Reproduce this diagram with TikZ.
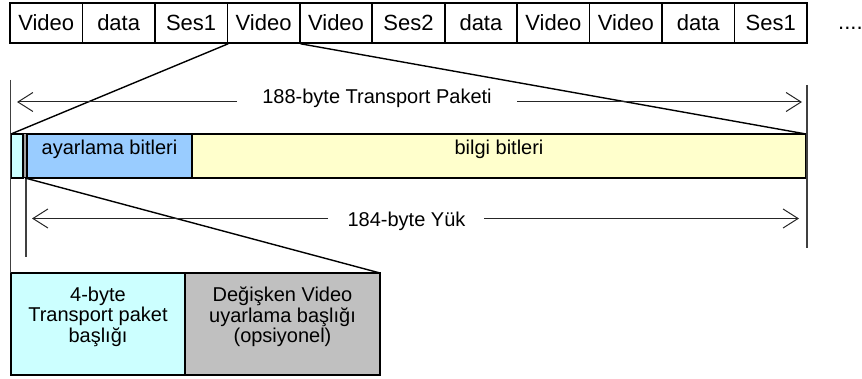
\documentclass[tikz,border=0pt]{standalone}
\usepackage{fontspec}
\setmainfont{Liberation Sans}
\usetikzlibrary{arrows.meta}
\definecolor{cyanf}{HTML}{CCFFFF}
\definecolor{bluef}{HTML}{99CCFF}
\definecolor{yellowf}{HTML}{FFFFCC}
\definecolor{greyf}{HTML}{C0C0C0}
\definecolor{stripf}{HTML}{A0A0A0}
\begin{document}
\begin{tikzpicture}[x=1pt,y=-1pt,
  topbox/.style={draw, line width=1.6pt, minimum width=72.45pt, minimum height=40pt, inner sep=0pt, font=\fontsize{22}{26}\selectfont},
  seg/.style={draw, line width=1.6pt, minimum height=44pt, inner sep=0pt, outer sep=0pt},
  botbox/.style={draw, line width=1.6pt, minimum height=102pt, inner sep=0pt, outer sep=0pt},
  lbl/.style={inner sep=0pt, font=\fontsize{20}{24}\selectfont},
  mlbl/.style={inner sep=0pt, align=center, font=\fontsize{20}{20.3}\selectfont},
  guide/.style={draw=black!75, line width=1.2pt},
  diag/.style={draw=black, line width=1.4pt},
  arr/.style={draw=black!85, line width=1pt, -{Straight Barb[length=15pt,width=19pt,line width=1pt]}}
]
\useasboundingbox (0,0) rectangle (862,379);

% top stream
\foreach \t [count=\i] in {Video,data,Ses1,Video,Video,Ses2,data,Video,Video,data,Ses1}
  \node[topbox] (t\i) at ({10+72.45*(\i-0.5)},23) {\t};
\node[lbl, font=\fontsize{22}{26}\selectfont, anchor=base west] (dots) at (838,30) {....};

% packet
\node[seg, fill=cyanf, minimum width=12pt] (p1) at (17,156) {};
\node[seg, fill=stripf, line width=1pt, minimum width=4pt] (p2) at (25,156) {};
\node[seg, fill=bluef, minimum width=165pt] (p3) at (109.5,156) {};
\node[seg, fill=yellowf, minimum width=614pt] (p4) at (499,156) {};
\node[lbl, anchor=base] (lp3) at (109.5,155) {ayarlama bitleri};
\node[lbl, anchor=base] (lp4) at (499,155) {bilgi bitleri};

% bottom header boxes
\node[botbox, fill=cyanf, minimum width=174pt] (b1) at (98,324) {};
\node[botbox, fill=greyf, minimum width=195pt] (b2) at (282.5,324) {};
\node[mlbl, anchor=north] (lb1) at (98,287) {4-byte\\Transport paket\\başlığı};
\node[mlbl, anchor=north] (lb2) at (282.5,287) {Değişken Video\\uyarlama başlığı\\(opsiyonel)};

% guide lines
\coordinate (gl1) at (10.5,80);
\coordinate (gl2) at (10.5,273);
\coordinate (gr1) at (807,85);
\coordinate (gr2) at (807,248);
\coordinate (gi1) at (26,178);
\coordinate (gi2) at (26,257);
\draw[guide] (gl1) -- (gl2);
\draw[guide] (gr1) -- (gr2);
\draw[guide] (gi1) -- (gi2);

% zoom lines
\draw[diag] (t3.south east) -- (p1.north west);
\draw[diag] (t4.south east) -- (p4.north east);
\draw[diag] (p2.south) -- (b2.north east);

% dimension arrows
\node[lbl, anchor=base] (d188) at (377,103.5) {188-byte Transport Paketi};
\coordinate (a1s) at (237,102);
\coordinate (a1e) at (17,102);
\coordinate (a2s) at (517,102);
\coordinate (a2e) at (802,102);
\draw[arr] (a1s) -- (a1e);
\draw[arr] (a2s) -- (a2e);

\node[lbl, anchor=base] (d184) at (406.5,227) {184-byte Yük};
\coordinate (b1s) at (328,218.5);
\coordinate (b1e) at (32,218.5);
\coordinate (b2s) at (484,218.5);
\coordinate (b2e) at (799,218.5);
\draw[arr] (b1s) -- (b1e);
\draw[arr] (b2s) -- (b2e);
\end{tikzpicture}
\end{document}
